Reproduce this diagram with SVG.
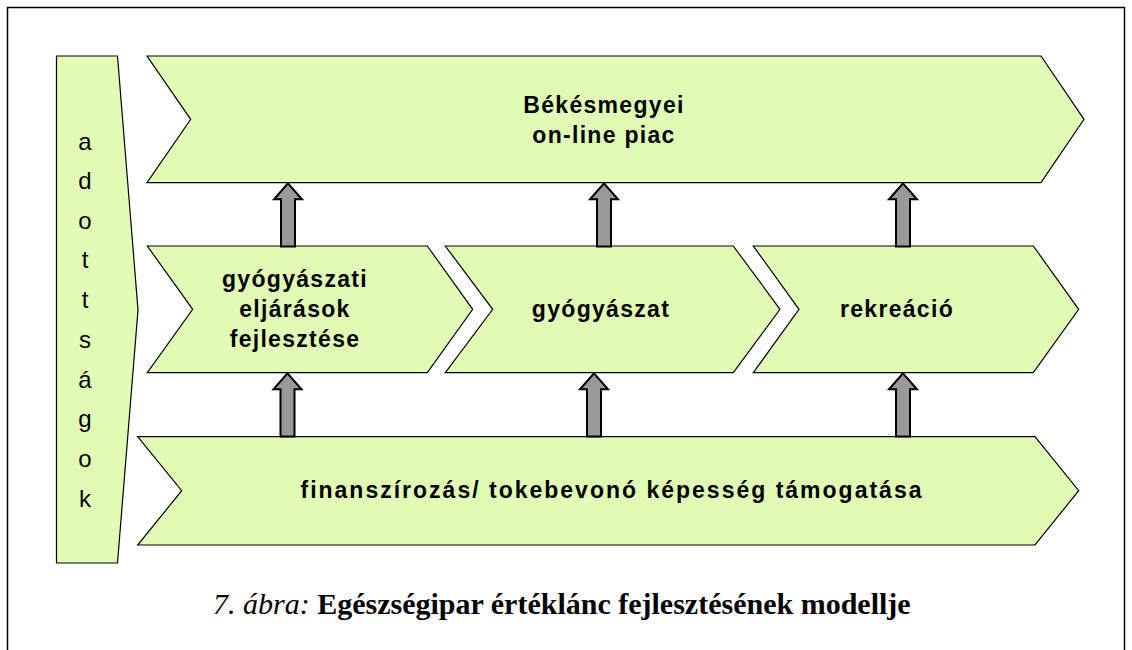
<svg xmlns="http://www.w3.org/2000/svg" width="1132" height="650" viewBox="0 0 1132 650">
<style>
.shape{fill:#e0fcb5;stroke:#000;stroke-width:1.2;stroke-linejoin:miter}
.arr{fill:#999;stroke:#000;stroke-width:2;stroke-linejoin:miter}
.lbl{font-family:"Liberation Sans",Arial,sans-serif;font-weight:bold;font-size:23px;letter-spacing:1.3px;text-anchor:middle;fill:#000}
.vt{font-family:"Liberation Sans",Arial,sans-serif;font-size:24px;text-anchor:middle;fill:#000}
.cap{font-family:"Liberation Serif","Times New Roman",serif;font-size:30px;fill:#000}
</style>
<rect x="7.5" y="7.5" width="1117" height="680" fill="#fff" stroke="#000" stroke-width="1.5"/>
<g id="adottsagok">
<polygon class="shape" points="56.5,56 117.5,56 138,310 117.5,563 56.5,563"/>
<text class="vt" x="85" y="150">a</text>
<text class="vt" x="85" y="189">d</text>
<text class="vt" x="85" y="229">o</text>
<text class="vt" x="85" y="268">t</text>
<text class="vt" x="85" y="308">t</text>
<text class="vt" x="85" y="348">s</text>
<text class="vt" x="85" y="388">á</text>
<text class="vt" x="85" y="427">g</text>
<text class="vt" x="85" y="467">o</text>
<text class="vt" x="85" y="507">k</text>
</g>
<g id="piac">
<polygon class="shape" points="147,56 1041,56 1084,119.3 1041,182.7 147,182.7 190.7,119.3"/>
<text class="lbl" x="604" y="113">Békésmegyei</text>
<text class="lbl" x="604" y="143">on-line piac</text>
</g>
<g id="eljarasok">
<polygon class="shape" points="147.3,246 427.3,246 472.7,309.3 427.3,372.7 147.3,372.7 192.7,309.3"/>
<text class="lbl" x="295" y="287">gyógyászati</text>
<text class="lbl" x="295" y="317">eljárások</text>
<text class="lbl" x="295" y="347">fejlesztése</text>
</g>
<g id="gyogyaszat">
<polygon class="shape" points="445.3,246 733.3,246 780,309.3 733.3,372.7 445.3,372.7 492.7,309.3"/>
<text class="lbl" x="601" y="317">gyógyászat</text>
</g>
<g id="rekreacio">
<polygon class="shape" points="753.3,246 1033.3,246 1078.7,309.3 1033.3,372.7 753.3,372.7 799,309.3"/>
<text class="lbl" x="897" y="317">rekreáció</text>
</g>
<g id="finanszirozas">
<polygon class="shape" points="137.7,436.7 1035,436.7 1078.7,490.7 1035,545 137.7,545 181.7,490.7"/>
<text class="lbl" x="612" y="498" style="letter-spacing:2px">finanszírozás/ tokebevonó képesség támogatása</text>
</g>
<g id="connectors">
<polygon class="arr" points="288,183.3 302,199.3 295,199.3 295,246.5 281,246.5 281,199.3 274,199.3"/>
<polygon class="arr" points="604,183.3 618,199.3 611,199.3 611,246.5 597,246.5 597,199.3 590,199.3"/>
<polygon class="arr" points="903,183.3 917,199.3 910,199.3 910,246.5 896,246.5 896,199.3 889,199.3"/>
<polygon class="arr" points="287.5,373.3 301.5,389.3 294.5,389.3 294.5,436.5 280.5,436.5 280.5,389.3 273.5,389.3"/>
<polygon class="arr" points="594,373.3 608,389.3 601,389.3 601,436.5 587,436.5 587,389.3 580,389.3"/>
<polygon class="arr" points="903,373.3 917,389.3 910,389.3 910,436.5 896,436.5 896,389.3 889,389.3"/>
</g>
<text class="cap" x="213" y="614"><tspan font-style="italic">7. ábra:</tspan> <tspan font-weight="bold">Egészségipar értéklánc fejlesztésének modellje</tspan></text>
</svg>
